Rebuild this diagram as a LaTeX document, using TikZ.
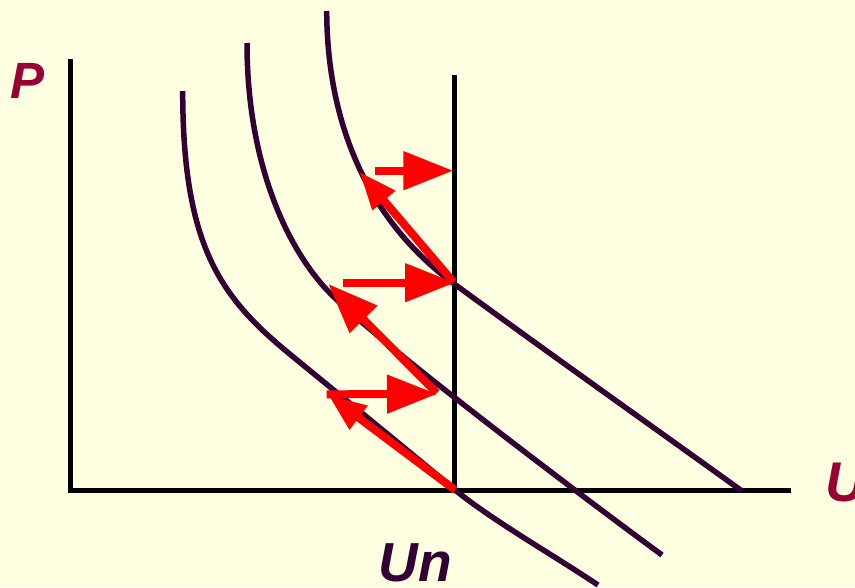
\documentclass[tikz,border=0pt]{standalone}
\usepackage{fontspec}
\setmainfont{Liberation Sans}
\usetikzlibrary{arrows.meta}
\definecolor{bgyellow}{RGB}{255,255,225}
\definecolor{curvepurple}{RGB}{51,0,51}
\definecolor{labelred}{RGB}{153,0,51}
\tikzset{
  axisline/.style={line width=4.5pt, black},
  unline/.style={line width=5pt, black},
  curveline/.style={line width=5.5pt, curvepurple},
  bigarrow/.style={line width=8pt, red, -{Triangle[length=50pt,width=37pt]}},
  smallarrow/.style={line width=8pt, red, -{Triangle[length=38pt,width=28pt]}},
  lbl/.style={inner sep=0pt}
}
\begin{document}
\begin{tikzpicture}[x=1pt,y=-1pt]
\fill[bgyellow] (0,0) rectangle (855,587);
\useasboundingbox (0,0) rectangle (855,587);

% axes
\coordinate (ytop) at (70.5,59);
\coordinate (origin) at (70.5,490.5);
\coordinate (xend) at (791,490.5);
\coordinate (untop) at (454.5,75);
\coordinate (unbot) at (454.5,490.5);
\draw[axisline] (ytop) -- (origin) -- (xend);
\draw[unline] (untop) -- (unbot);

% curves
\draw[curveline] (182.7,91) .. controls (182.7,250) and (223,299.7) .. (293,356.7)
  .. controls (350,403.5) and (410,452) .. (455,490)
  .. controls (495,522) and (550,553) .. (598,585);
\draw[curveline] (247,43) .. controls (247,160) and (285,245) .. (327,290)
  .. controls (368,334) and (560,480) .. (662,555);
\draw[curveline] (326.7,11) .. controls (327,120) and (366,219) .. (453,283)
  .. controls (550,354) and (646,422) .. (742,491);

% arrow points
\coordinate (a0) at (455,490);
\coordinate (a1) at (328.3,395);
\coordinate (b0) at (326.7,394.3);
\coordinate (b1) at (437,394);
\coordinate (c0) at (436.7,393);
\coordinate (c1) at (328.3,284);
\coordinate (d0) at (343.3,282.7);
\coordinate (d1) at (455,282.7);
\coordinate (e0) at (453.3,282);
\coordinate (e1) at (359.3,171.7);
\coordinate (f0) at (375,170.7);
\coordinate (f1) at (453.3,170.7);

\draw[smallarrow] (a0) -- (a1);
\draw[bigarrow] (b0) -- (b1);
\draw[bigarrow] (c0) -- (c1);
\draw[bigarrow] (d0) -- (d1);
\draw[smallarrow] (e0) -- (e1);
\draw[bigarrow] (f0) -- (f1);

% labels
\node[lbl, text=labelred, font=\fontsize{51}{51}\selectfont\bfseries\itshape] (plabel) at (28,81) {P};
\node[lbl, text=labelred, font=\fontsize{56}{56}\selectfont\bfseries\itshape, anchor=west] (ulabel) at (825,482.5) {U};
\node[lbl, text=curvepurple, font=\fontsize{55}{55}\selectfont\bfseries\itshape] (unlabel) at (415,563) {Un};
\end{tikzpicture}
\end{document}
